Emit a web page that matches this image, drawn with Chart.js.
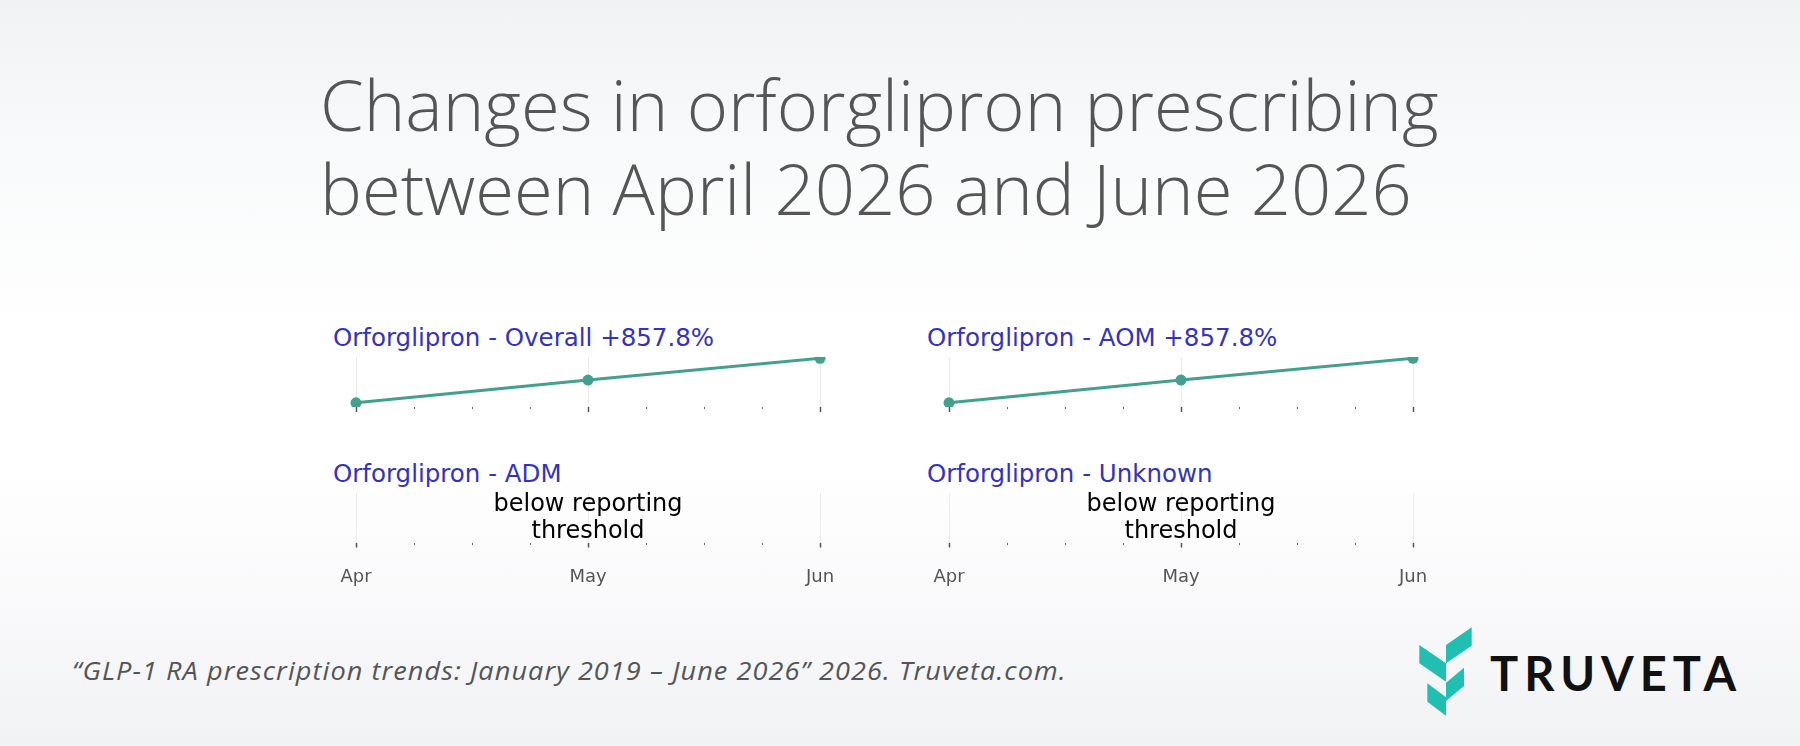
<!DOCTYPE html>
<html lang="en">
<head>
<meta charset="UTF-8">
<title>Changes in orforglipron prescribing</title>
<script src="https://cdn.jsdelivr.net/npm/chart.js"></script>
<style>
  html, body { margin: 0; padding: 0; }
  body {
    width: 1800px; height: 746px; position: relative; overflow: hidden;
    background: linear-gradient(to bottom, #f1f2f4 0%, #f8f9fa 18%, #ffffff 45%, #ffffff 62%, #f9f9fb 82%, #f1f2f4 100%);
  }
  .abs { position: absolute; white-space: nowrap; }
  .title {
    left: 320px; font-family: "Open Sans", sans-serif; font-weight: 300;
    font-size: 70.5px; line-height: 84px; height: 84px; color: #555;
  }
  .ptitle {
    font-family: "DejaVu Sans", sans-serif; font-size: 24.5px; line-height: 24px; color: #3434b8;
  }
  #cite {
    left: 72px; top: 657px; font-family: "Open Sans", sans-serif; font-style: italic;
    font-size: 25.5px; line-height: 26px; letter-spacing: 1px; color: #555;
    transform: scaleX(1.063); transform-origin: 0 0;
  }
  #logoText {
    left: 1490px; top: 650px; font-family: Lato, sans-serif; font-weight: 700;
    font-size: 47px; line-height: 47px; letter-spacing: 6px; color: #111;
  }
</style>
</head>
<body>
<div class="abs title" style="top:62px;">Changes in orforglipron prescribing</div>
<div class="abs title" style="top:146px;">between April 2026 and June 2026</div>

<div id="t1" class="abs ptitle" style="left:333px; top:326px;"></div>
<div id="t2" class="abs ptitle" style="left:927px; top:326px;"></div>
<div id="t3" class="abs ptitle" style="left:333px; top:462px;"></div>
<div id="t4" class="abs ptitle" style="left:927px; top:462px;"></div>

<div class="abs" style="left:316px; top:347px;"><canvas id="c1" width="544" height="70"></canvas></div>
<div class="abs" style="left:909px; top:347px;"><canvas id="c2" width="544" height="70"></canvas></div>
<div class="abs" style="left:316px; top:483px;"><canvas id="c3" width="544" height="114"></canvas></div>
<div class="abs" style="left:909px; top:483px;"><canvas id="c4" width="544" height="114"></canvas></div>

<div id="cite" class="abs">“GLP-1 RA prescription trends: January 2019 – June 2026” 2026. Truveta.com.</div>

<svg class="abs" style="left:1410px; top:620px;" width="75" height="105" viewBox="0 0 225 315">
  <g fill="#20bfb1">
    <polygon points="28,75 108,130 108,185 28,130"/>
    <polygon points="108,75 185,22 185,77 108,130"/>
    <polygon points="108,188 162,143 162,198 108,243"/>
    <polygon points="52,190 108,232 108,287 52,245"/>
  </g>
</svg>
<div id="logoText" class="abs">TRUVETA</div>

<script>
// months on the x axis (positions 0..2), minor ticks every quarter month
const months = ['Apr', 'May', 'Jun'];
const monthPos = [0, 1, 2];

// prescribing index, April = 1
const overall = [1.0, 5.38, 9.578];
const aom = [1.0, 5.38, 9.578];
const adm = [null, null, null];
const unknown = [null, null, null];

const panelNames = ['Orforglipron - Overall', 'Orforglipron - AOM', 'Orforglipron - ADM', 'Orforglipron - Unknown'];

const yMin = 0.2, yMax = 9.83;
const teal = '#44a08e';

const pctChange = (vals) => {
  if (vals[0] == null || vals[vals.length - 1] == null) return '';
  const p = (vals[vals.length - 1] / vals[0] - 1) * 100;
  return ' ' + (p >= 0 ? '+' : '') + p.toFixed(1) + '%';
};

// text shown when a series has no values
const thresholdNote = {
  id: 'thresholdNote',
  afterDatasetsDraw(chart) {
    const vals = chart.data.datasets[0].data;
    if (vals.some(d => d.y != null)) return;
    const ctx = chart.ctx;
    const x = chart.scales.x.getPixelForValue(1);
    const top = chart.chartArea.top;
    ctx.save();
    ctx.fillStyle = '#000';
    ctx.font = '24px "DejaVu Sans"';
    ctx.textAlign = 'center';
    ctx.textBaseline = 'alphabetic';
    ctx.fillText('below reporting', x, top + 18);
    ctx.fillText('threshold', x, top + 45);
    ctx.restore();
  }
};

const isMajor = (c) => c.tick && Number.isInteger(c.tick.value);

function drawPanel(id, vals, showLabels) {
  new Chart(document.getElementById(id), {
    type: 'line',
    data: {
      datasets: [{
        data: monthPos.map((x, i) => ({ x: x, y: vals[i] })),
        borderColor: teal,
        backgroundColor: teal,
        borderWidth: 3,
        pointRadius: 5.5,
        pointHoverRadius: 5.5,
        pointBorderWidth: 0,
        clip: { left: 8, right: 8, top: 0, bottom: 0 }
      }]
    },
    options: {
      responsive: false,
      animation: false,
      layout: { padding: { left: 40, right: 40, top: 10, bottom: 5 } },
      plugins: { legend: { display: false }, tooltip: { enabled: false } },
      scales: {
        x: {
          type: 'linear',
          min: 0,
          max: 2,
          border: { display: false },
          grid: {
            color: c => isMajor(c) ? '#ebebeb' : 'rgba(0,0,0,0)',
            tickColor: c => isMajor(c) ? '#555' : '#666',
            tickWidth: c => isMajor(c) ? 1.5 : 1,
            tickBorderDash: c => isMajor(c) ? [] : [2, 20],
            tickLength: 5
          },
          ticks: {
            display: showLabels,
            stepSize: 0.25,
            autoSkip: false,
            maxRotation: 0,
            padding: 19,
            color: '#555',
            font: { family: 'DejaVu Sans', size: 18 },
            callback: v => Number.isInteger(v) ? months[v] : ''
          }
        },
        y: { display: false, min: yMin, max: yMax }
      }
    },
    plugins: [thresholdNote]
  });
}

[overall, aom, adm, unknown].forEach((vals, i) => {
  document.getElementById('t' + (i + 1)).textContent = panelNames[i] + pctChange(vals);
});

drawPanel('c1', overall, false);
drawPanel('c2', aom, false);
drawPanel('c3', adm, true);
drawPanel('c4', unknown, true);
</script>
</body>
</html>
